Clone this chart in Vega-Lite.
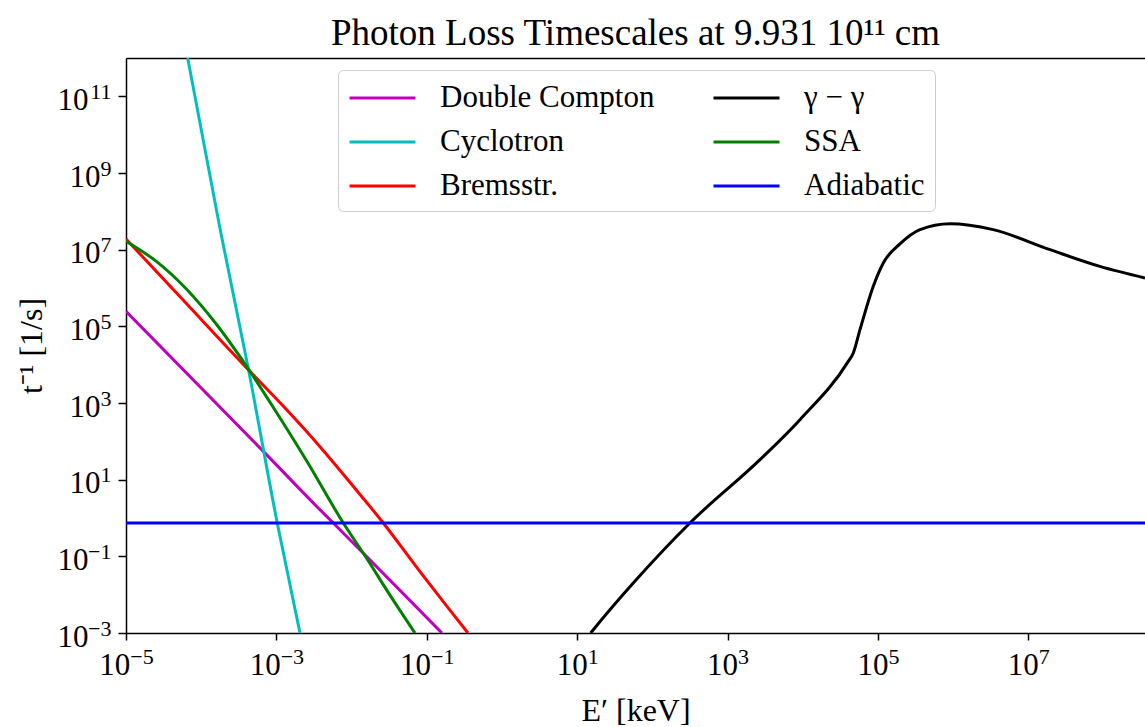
{
  "$schema": "https://vega.github.io/schema/vega-lite/v6.json",
  "width": 1019,
  "height": 575,
  "autosize": {"type": "none"},
  "padding": {"left": 126, "top": 58, "right": 0, "bottom": 94},
  "background": "white",
  "config": {
    "font": "Liberation Serif",
    "view": {"stroke": null}
  },
  "title": {
    "text": "Photon Loss Timescales at 9.931 10¹¹ cm",
    "fontSize": 37,
    "font": "Liberation Serif",
    "fontWeight": "normal",
    "color": "black",
    "anchor": "middle",
    "frame": "group",
    "baseline": "alphabetic",
    "offset": -24
  },
  "data": {
    "values": [
      {"E": 1e-5, "rate": 2.45e5, "process": "Double Compton"},
      {"E": 6.71e-4, "rate": 54.7, "process": "Double Compton"},
      {"E": 3.44e-3, "rate": 2.0, "process": "Double Compton"},
      {"E": 5.71e-3, "rate": 0.741, "process": "Double Compton"},
      {"E": 1.29e-2, "rate": 0.148, "process": "Double Compton"},
      {"E": 5.01e-2, "rate": 0.01, "process": "Double Compton"},
      {"E": 0.159, "rate": 1e-3, "process": "Double Compton"},

      {"E": 6.61e-5, "rate": 1e12, "process": "Cyclotron"},
      {"E": 1.778e-4, "rate": 3.55e7, "process": "Cyclotron"},
      {"E": 4.23e-4, "rate": 7.94e3, "process": "Cyclotron"},
      {"E": 1.028e-3, "rate": 0.733, "process": "Cyclotron"},
      {"E": 2.06e-3, "rate": 1e-3, "process": "Cyclotron"},

      {"E": 1e-5, "rate": 1.905e7, "process": "Bremsstr."},
      {"E": 6.31e-5, "rate": 3.98e5, "process": "Bremsstr."},
      {"E": 4.23e-4, "rate": 7.41e3, "process": "Bremsstr."},
      {"E": 1.26e-3, "rate": 794, "process": "Bremsstr."},
      {"E": 3.8e-3, "rate": 72.4, "process": "Bremsstr."},
      {"E": 1.0e-2, "rate": 7.59, "process": "Bremsstr."},
      {"E": 2.64e-2, "rate": 0.741, "process": "Bremsstr."},
      {"E": 8.13e-2, "rate": 0.0398, "process": "Bremsstr."},
      {"E": 0.178, "rate": 5.5e-3, "process": "Bremsstr."},
      {"E": 0.353, "rate": 1e-3, "process": "Bremsstr."},

      {"E": 15.1, "rate": 1e-3, "process": "γ − γ"},
      {"E": 16.4, "rate": 1.22e-3, "process": "γ − γ"},
      {"E": 55.7, "rate": 0.0201, "process": "γ − γ"},
      {"E": 316, "rate": 0.741, "process": "γ − γ"},
      {"E": 2700, "rate": 33.2, "process": "γ − γ"},
      {"E": 9180, "rate": 367, "process": "γ − γ"},
      {"E": 4.03e4, "rate": 1.22e4, "process": "γ − γ"},
      {"E": 4.70e4, "rate": 2.02e4, "process": "γ − γ"},
      {"E": 5.77e4, "rate": 8.18e4, "process": "γ − γ"},
      {"E": 8.65e4, "rate": 1.10e6, "process": "γ − γ"},
      {"E": 1.178e5, "rate": 4.5e6, "process": "γ − γ"},
      {"E": 1.963e5, "rate": 1.41e7, "process": "γ − γ"},
      {"E": 3.62e5, "rate": 3.33e7, "process": "γ − γ"},
      {"E": 9.06e5, "rate": 4.76e7, "process": "γ − γ"},
      {"E": 3.41e6, "rate": 3.33e7, "process": "γ − γ"},
      {"E": 1.94e7, "rate": 1.0e7, "process": "γ − γ"},
      {"E": 8.95e7, "rate": 3.66e6, "process": "γ − γ"},
      {"E": 3.56e8, "rate": 1.83e6, "process": "γ − γ"},

      {"E": 1e-5, "rate": 1.66e7, "process": "SSA"},
      {"E": 2.51e-5, "rate": 5.01e6, "process": "SSA"},
      {"E": 6.31e-5, "rate": 9.55e5, "process": "SSA"},
      {"E": 1.585e-4, "rate": 1.148e5, "process": "SSA"},
      {"E": 4.23e-4, "rate": 7.76e3, "process": "SSA"},
      {"E": 1e-3, "rate": 575, "process": "SSA"},
      {"E": 2.51e-3, "rate": 31.6, "process": "SSA"},
      {"E": 7.76e-3, "rate": 0.741, "process": "SSA"},
      {"E": 1.585e-2, "rate": 0.0891, "process": "SSA"},
      {"E": 3.16e-2, "rate": 0.0105, "process": "SSA"},
      {"E": 6.97e-2, "rate": 1e-3, "process": "SSA"},

      {"E": 1e-5, "rate": 0.741, "process": "Adiabatic"},
      {"E": 3.56e8, "rate": 0.741, "process": "Adiabatic"}
    ]
  },
  "encoding": {
    "color": {
      "field": "process",
      "type": "nominal",
      "scale": {
        "domain": ["Double Compton", "Cyclotron", "Bremsstr.", "γ − γ", "SSA", "Adiabatic"],
        "range": ["#bf00bf", "#00bfbf", "#ff0000", "#000000", "#008000", "#0000ff"]
      },
      "legend": {
        "title": null,
        "orient": "none",
        "legendX": 212,
        "legendY": 12,
        "direction": "vertical",
        "columns": 2,
        "columnPadding": 52,
        "rowPadding": 11,
        "symbolType": "M-1,0L3,0",
        "symbolSize": 1089,
        "symbolStrokeWidth": 3,
        "labelFontSize": 31,
        "labelColor": "black",
        "labelOffset": 56,
        "labelLimit": 500,
        "padding": 10,
        "strokeColor": "#cccccc",
        "fillColor": "white",
        "cornerRadius": 5
      }
    }
  },
  "layer": [
    {
      "transform": [{"filter": "datum.process == 'Double Compton' || datum.process == 'Cyclotron' || datum.process == 'Bremsstr.'"}],
      "mark": {"type": "line", "strokeWidth": 3, "clip": true, "interpolate": "monotone"},
      "encoding": {
        "x": {
          "field": "E",
          "type": "quantitative",
          "scale": {"type": "log", "domain": [1e-5, 3.56e8], "nice": false},
          "axis": {
            "orient": "bottom",
            "values": [1e-5, 1e-3, 0.1, 10, 1e3, 1e5, 1e7],
            "labelExpr": "'10'",
            "labelFontSize": 31,
            "labelColor": "black",
            "labelPadding": 10,
            "labelOffset": {"condition": {"test": "datum.value < 1", "value": -11.7}, "value": -5.5},
            "labelFlush": false,
            "labelOverlap": false,
            "tickSize": 7,
            "tickWidth": 1.5,
            "tickColor": "black",
            "domainColor": "black",
            "domainWidth": 1.5,
            "grid": false,
            "title": "E′ [keV]",
            "titleFontSize": 32,
            "titleFontWeight": "normal",
            "titleColor": "black",
            "titleBaseline": "alphabetic",
            "titleY": 87
          }
        },
        "y": {
          "field": "rate",
          "type": "quantitative",
          "scale": {"type": "log", "domain": [1e-3, 1e12], "nice": false},
          "axis": {
            "orient": "left",
            "values": [1e-3, 1e-1, 10, 1e3, 1e5, 1e7, 1e9, 1e11],
            "labelExpr": "'10'",
            "labelFontSize": 31,
            "labelColor": "black",
            "labelPadding": {"condition": {"test": "datum.value < 1 || datum.value > 1e10", "value": 30}, "value": 18},
            "labelBaseline": "middle",
            "labelOffset": 4,
            "labelFlush": false,
            "labelOverlap": false,
            "tickSize": 8,
            "tickWidth": 1.5,
            "tickColor": "black",
            "domainColor": "black",
            "domainWidth": 1.5,
            "grid": false,
            "title": "t⁻¹ [1/s]",
            "titleFontSize": 32,
            "titleFontWeight": "normal",
            "titleColor": "black",
            "titleBaseline": "alphabetic",
            "titleX": -85,
            "titleAngle": 270
          }
        }
      }
    },
    {
      "transform": [{"filter": "datum.process == 'γ − γ' || datum.process == 'SSA'"}],
      "mark": {"type": "line", "strokeWidth": 3, "clip": true, "interpolate": "monotone"},
      "encoding": {
        "x": {
          "field": "E",
          "type": "quantitative",
          "scale": {"type": "log", "domain": [1e-5, 3.56e8], "nice": false},
          "axis": {
            "orient": "bottom",
            "values": [1e-5, 1e-3, 0.1, 10, 1e3, 1e5, 1e7],
            "labelExpr": "datum.value < 1e-4 ? '−5' : datum.value < 1e-2 ? '−3' : datum.value < 1 ? '−1' : datum.value < 100 ? '1' : datum.value < 1e4 ? '3' : datum.value < 1e6 ? '5' : '7'",
            "labelFontSize": 22,
            "labelColor": "black",
            "labelPadding": 13,
            "labelOffset": 15.5,
            "labelFlush": false,
            "labelOverlap": false,
            "ticks": false,
            "tickSize": 0,
            "domain": false,
            "grid": false,
            "title": null
          }
        },
        "y": {
          "field": "rate",
          "type": "quantitative",
          "scale": {"type": "log", "domain": [1e-3, 1e12], "nice": false},
          "axis": {
            "orient": "left",
            "values": [1e-3, 1e-1, 10, 1e3, 1e5, 1e7, 1e9, 1e11],
            "labelExpr": "datum.value < 1e-2 ? '−3' : datum.value < 1 ? '−1' : datum.value < 100 ? '1' : datum.value < 1e4 ? '3' : datum.value < 1e6 ? '5' : datum.value < 1e8 ? '7' : datum.value < 1e10 ? '9' : '11'",
            "labelFontSize": 22,
            "labelColor": "black",
            "labelPadding": 15,
            "labelBaseline": "middle",
            "labelOffset": -5,
            "labelFlush": false,
            "labelOverlap": false,
            "ticks": false,
            "tickSize": 0,
            "domain": false,
            "grid": false,
            "title": null
          }
        }
      }
    },
    {
      "transform": [{"filter": "datum.process == 'Adiabatic'"}],
      "mark": {"type": "line", "strokeWidth": 3, "clip": true},
      "encoding": {
        "x": {
          "field": "E",
          "type": "quantitative",
          "scale": {"type": "log", "domain": [1e-5, 3.56e8], "nice": false},
          "axis": {
            "orient": "top",
            "labels": false,
            "ticks": false,
            "domain": true,
            "domainColor": "black",
            "domainWidth": 1.5,
            "grid": false,
            "title": null
          }
        },
        "y": {
          "field": "rate",
          "type": "quantitative",
          "scale": {"type": "log", "domain": [1e-3, 1e12], "nice": false},
          "axis": null
        }
      }
    }
  ],
  "resolve": {"axis": {"x": "independent", "y": "independent"}}
}
